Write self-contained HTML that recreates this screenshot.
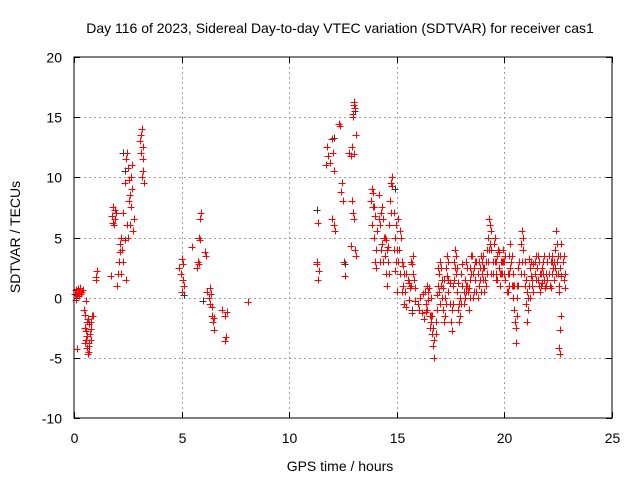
<!DOCTYPE html>
<html><head><meta charset="utf-8"><style>
html,body{margin:0;padding:0;background:#fff;}
svg{display:block;font-family:"Liberation Sans",sans-serif;}
</style></head><body>
<svg id="chart" width="640" height="480" viewBox="0 0 640 480">
<rect width="640" height="480" fill="#fff"/>
<g id="grid"></g>
<g id="ticks"></g>
<g id="black"></g>
<g id="red"></g>
<rect x="74" y="57" width="538" height="361" fill="none" stroke="#000" stroke-width="1"/>
<text x="340" y="33" text-anchor="middle" font-size="14" fill="#000">Day 116 of 2023, Sidereal Day-to-day VTEC variation (SDTVAR) for receiver cas1</text>
<text x="340" y="471" text-anchor="middle" font-size="14" fill="#000">GPS time / hours</text>
<text x="20" y="237" text-anchor="middle" font-size="14" fill="#000" transform="rotate(-90 20 237)">SDTVAR / TECUs</text>
</svg>
<script>
const xTicks=[0,5,10,15,20,25];
const yTicks=[-10,-5,0,5,10,15,20];
const redX=[0.05,0.1,0.15,0.2,0.25,0.3,0.35,0.4,0.12,0.08,0.22,0.32,
0.45,0.5,0.55,0.6,0.65,0.7,0.75,0.8,0.85,0.5,0.6,0.7,0.8,0.55,0.9,0.65,0.58,0.72,0.62,0.68,0.52,0.78,
1.0,1.05,1.0,
1.7,1.75,1.8,1.85,1.9,1.95,1.8,1.9,
2.0,2.05,2.1,2.15,2.2,2.25,2.3,2.35,2.4,2.45,2.5,2.55,2.6,2.65,2.7,2.75,2.8,2.2,2.3,2.4,2.5,2.6,2.7,2.45,2.35,2.55,2.65,2.15,
3.1,3.15,3.2,3.1,3.2,3.25,3.15,3.05,3.2,
4.95,5.0,5.05,5.0,5.1,4.9,5.05,
5.5,5.7,5.75,5.8,5.85,5.9,5.85,5.8,
6.1,6.15,6.2,6.25,6.3,6.35,6.4,6.45,6.5,6.4,6.3,6.5,
6.9,7.0,7.05,7.0,7.1,8.1,
11.35,11.3,11.35,11.4,11.3,
11.7,11.75,11.8,11.9,12.0,12.05,12.1,12.15,12.0,12.1,
12.3,12.4,12.45,12.5,12.55,12.6,12.35,
12.8,12.85,12.9,12.95,13.0,13.05,13.1,12.9,12.95,13.0,13.05,13.1,12.85,13.0,13.02,12.98,
13.8,13.85,13.9,13.95,14.0,14.05,14.1,14.15,14.2,14.25,14.3,14.35,14.4,14.45,14.5,14.55,14.6,14.65,14.7,14.75,14.8,14.85,14.9,14.95,15.0,15.05,15.1,15.15,15.2,15.25,15.3,15.35,15.4,15.45,15.5,15.55,15.6,15.65,15.7,15.75,15.8,15.85,15.7,14.3,13.9,14.8,14.2,14.5,15.0,14.0,14.6,14.9,15.3,
16.0,16.05,16.1,16.15,16.2,16.25,
16.3,16.35,16.4,16.45,16.5,16.55,16.6,16.65,16.7,16.75,16.8,16.85,16.9,16.95,17.0,17.05,17.1,17.15,17.2,17.25,17.3,17.35,17.4,17.45,17.5,17.55,17.6,17.65,17.7,17.75,17.8,17.85,17.9,17.95,18.0,18.05,18.1,18.15,18.2,18.25,18.3,18.35,18.4,18.45,18.5,18.55,18.6,18.65,18.7,18.75,18.8,18.85,18.9,18.95,19.0,19.05,19.1,19.15,19.2,19.25,19.3,19.35,19.4,19.45,19.5,19.55,19.6,19.65,19.7,19.75,19.8,19.85,19.9,19.95,20.0,20.05,20.1,20.15,20.2,20.25,20.3,20.35,20.4,20.45,20.5,20.55,20.6,20.65,20.7,20.75,20.8,20.85,20.9,20.95,21.0,21.05,21.1,21.15,21.2,21.25,21.3,21.35,21.4,21.45,21.5,21.55,21.6,21.65,21.7,21.75,21.8,21.85,21.9,21.95,22.0,22.05,22.1,22.15,22.2,22.3,22.35,22.4,22.45,22.5,22.55,22.6,22.65,22.7,22.75,22.8,22.65,22.6,22.55,22.6,
16.6,16.9,17.1,17.4,17.7,17.9,18.2,18.4,18.7,19.0,19.3,19.6,19.9,20.2,20.4,20.8,21.1,21.4,21.7,22.0,22.3,22.5,16.7,17.3,18.1,18.9,19.4,20.6,21.3,22.2];
const redY=[0.3,0.6,0.2,0.7,0.4,0.8,0.5,0.6,-4.3,-0.2,0.1,0.3,
-1,-2.5,-3.5,-4.2,-4.7,-3.8,-3,-2,-1.5,-3.8,-2,-4.5,-3.5,-0.3,-1.5,-1.8,-2.8,-2.2,-3.2,-4.0,-1.4,-2.6,
1.5,2.2,1.7,
1.8,6.8,7.5,6,6.5,7,6.2,7.3,
1,2,3,4.5,5,4,7,9.5,11.5,12,10.8,8,6,7.5,9,5.5,6.5,2,3,1.5,5,8.5,11,6,4.8,9.8,10,3.8,
13.5,14,12.5,12,10.5,9.5,10,13,11.5,
2,3.2,1.5,0.5,1,2.5,2.8,
4.2,2.5,3,5,6.5,7,4.8,2.8,
3.8,3.5,0.5,0,-0.5,0.3,-1.5,-2,-2.7,-0.8,0.8,-1.7,
-1,-1.5,-3.3,-3.6,-1.2,-0.4,
6.2,3,1.5,2.2,2.8,
11,12.5,11.8,11.2,13.2,12,6,5.5,6.5,10.5,
14.4,8.8,9.5,8,3,1.8,14.3,
12,11.8,12.5,15,16.3,15.8,13.5,8,7,6.5,4,3.5,4.3,11.9,16,15.3,
8,9,7.5,5,3,2.5,5.5,8.5,6,4,4.5,6.5,5,3.5,2,1,3,6,8,9.5,10,7,5,3,4,6.5,4,2,5,3,1,-0.5,0.5,2,1.5,-0.2,0.8,3,2.8,3.5,1.5,0.8,-1.3,7.5,8.7,9.3,3,4.8,0.5,6.8,4.2,2.2,2.6,
-0.5,-1,0,-1.3,0.3,-1.8,
0.5,-0.5,-1,-0.2,0.8,-1.5,-2,-3,-4,-5,-3,-1,1,2,3,1,0,-1,-2,0,2.5,3.5,1.5,-0.5,-2,-1,1,3,4,2,0.5,-1,-2,0,2,1,-0.5,1.5,3,2.5,0.5,-1,0,2,3.5,2,0.5,1.5,3,2,1,2.5,3.5,3,1.5,0.5,1.5,3,4,5,6.5,6,4,3,4.5,3,2,3.5,4,2.5,1,3,2,4,3,1.5,0.5,2,3.5,4.5,3,1,0,-1,-2,-3.8,-1.5,1,3,4.5,5.5,4,2,1,-0.5,-2,-1,1,2.5,3,1.5,0.5,2,3.5,2.5,1.5,3,2,1,2.5,3,1.5,0.8,2,3,2,1,3,2,1.5,4,5.5,3,2,1,2.5,4.5,3,1.5,0.8,-1.5,-2.7,-4.2,-4.7,
-1.5,2.5,1.5,0.5,2.5,-0.5,1,1.5,0.5,2.5,4,1.5,3,2,1,3,0,3,2,1.5,3,3.5,-2.5,-0.5,0.5,0.5,2,1,1,3];
const extraX=[16.35,16.45,16.55,16.65,16.75,16.85,16.95,17.05,17.15,17.25,17.35,17.45,17.55,17.65,17.75,17.85,17.95,18.05,18.15,18.25,18.35,18.45,18.55,18.65,18.75,18.85,18.95,19.05,19.15,19.25,19.35,19.45,19.55,19.65,19.75,19.85,19.95,20.05,20.15,20.25,20.35,20.45,20.55,20.65,20.75,20.85,20.95,21.05,21.15,21.25,21.35,21.45,21.55,21.65,21.75,21.85,21.95,22.05,22.15,22.25,22.35,22.45,22.55,22.65,22.75,
14.05,14.15,14.25,14.35,14.45,14.55,14.65,14.75,14.85,14.95,15.05,15.15,15.25,15.35,15.45,15.55,15.65,15.75,15.85,13.85,13.95,
16.4,16.6,16.8,17.0,17.2,17.4,17.6,17.8,18.0,18.2,18.4,18.6,18.8,19.0,19.2,19.4,19.6,19.8,20.0,20.2,20.4,20.6,20.8,21.0,21.2,21.4,21.6,21.8,22.0,22.2,22.4,22.6,22.8];
const extraY=[-1.2,0.5,-2.5,-1.5,-3.5,0.2,0.5,2.5,0.8,-1.5,1.8,1.2,-2.8,1.5,3.5,1.2,-1.5,2.8,0,1,0.8,3.5,0,3,0,1.5,2,2.5,1,3,4.5,2,5,1.5,3.8,2,3,3.5,0.5,2.5,3.5,1,-2.5,2.5,2,5,3,0.5,3.2,1.8,2.8,1.5,3.5,0.5,1.2,3.5,1,3.5,0.8,2.5,2.5,4.5,0.5,1.8,3.5,
4,6.5,7,3,5,4,2,7,4,6,3,5.5,0.5,2,-0.8,1.2,1,2,-0.3,6,7.5,
1,0,-2,-0.5,1.5,3,-0.5,2.5,-0.5,0.5,2.5,2.5,3,3.5,2,5.5,3,2,2,1,2,0,3,1.5,0,3,1,2,1.5,3.5,2,3.5,2];
const blackX=[0.6,2.35,5.1,6.0,11.3,12.1,12.6,13.05,14.9,15.7,2.3];
const blackY=[-2,10.5,0.2,-0.3,7.3,13.3,2.8,15.5,9,-1,12];
const NS='http://www.w3.org/2000/svg';
function sx(v){return 74+(v-0)/25*538;}
function sy(v){return 418-(v+10)/30*361;}
const grid=document.getElementById('grid'),ticks=document.getElementById('ticks');
function line(p,x1,y1,x2,y2,st,extra){const l=document.createElementNS(NS,'line');l.setAttribute('x1',x1);l.setAttribute('y1',y1);l.setAttribute('x2',x2);l.setAttribute('y2',y2);l.setAttribute('stroke',st);if(extra)l.setAttribute('stroke-dasharray',extra);p.appendChild(l);return l;}
function txt(x,y,s,anchor){const t=document.createElementNS(NS,'text');t.setAttribute('x',x);t.setAttribute('y',y);t.setAttribute('text-anchor',anchor);t.setAttribute('font-size','14');t.textContent=s;ticks.appendChild(t);return t;}
xTicks.forEach(v=>{const X=Math.round(sx(v))+0.5;
if(v>0&&v<25){const g=line(grid,X,57,X,418,'#a0a0a0','2,3');

}
line(ticks,X,418,X,412,'#000');line(ticks,X,57,X,63,'#000');
const t=txt(X,443,String(v),'middle');

});
yTicks.forEach(v=>{const Y=Math.round(sy(v))+0.5;
if(v>-10&&v<20){const g=line(grid,74,Y,612,Y,'#a0a0a0','2,3');

}
line(ticks,74,Y,80,Y,'#000');line(ticks,612,Y,606,Y,'#000');
const t=txt(62,Y+5,String(v),'end');

});
function plus(g,xs,ys,col,name){let d='';for(let i=0;i<xs.length;i++){const X=Math.round(sx(xs[i])),Y=Math.round(sy(ys[i]));d+='M'+(X-3.5)+' '+(Y+0.5)+'h7M'+(X+0.5)+' '+(Y-3.5)+'v7';}
const p=document.createElementNS(NS,'path');p.setAttribute('d',d);p.setAttribute('stroke',col);p.setAttribute('stroke-width','1');p.setAttribute('fill','none');


g.appendChild(p);}
plus(document.getElementById('black'),blackX,blackY,'#333','black-points');
plus(document.getElementById('red'),redX,redY,'#ff0000','red-points');
plus(document.getElementById('red'),extraX,extraY,'#ff0000','red-points-extra');
</script>
</body></html>
